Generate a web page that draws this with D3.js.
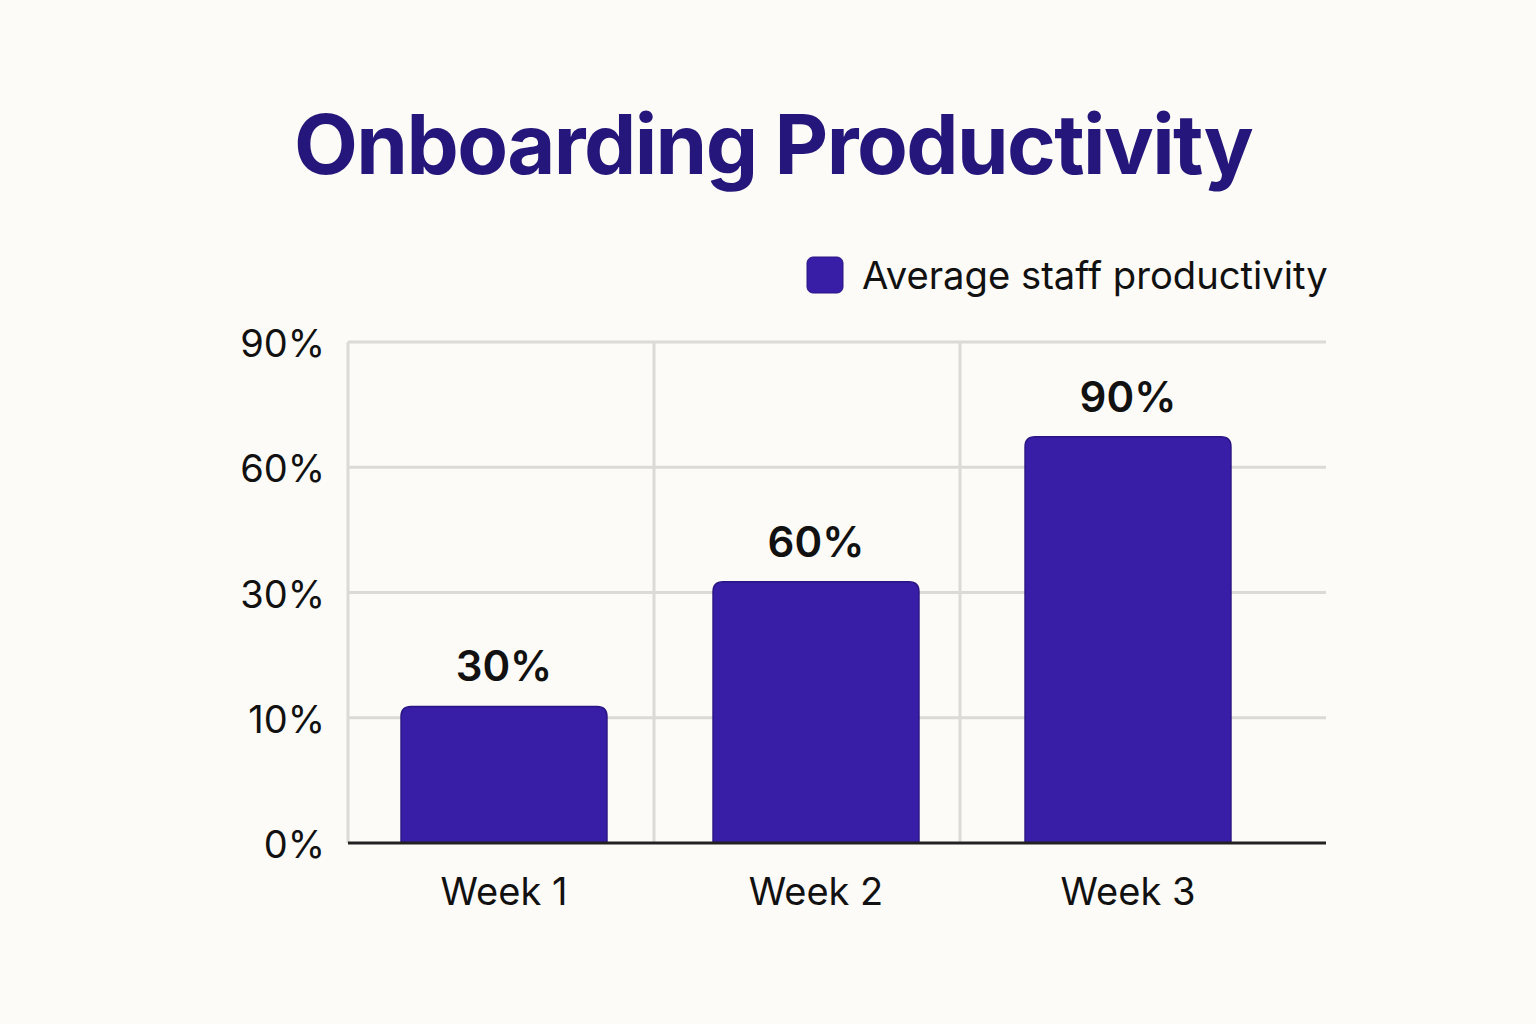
<!DOCTYPE html>
<html>
<head>
<meta charset="utf-8">
<script src="https://cdn.jsdelivr.net/npm/d3@7"></script>
<style>
  html, body { margin: 0; padding: 0; background: #fdfbf7; }
  svg { display: block; font-family: Inter, "Noto Sans", sans-serif; }
</style>
</head>
<body>
<script>
// Chart data
var weeks = ['Week 1', 'Week 2', 'Week 3'];
var valueLabels = [30, 60, 90];          /* the printed labels above each bar */
var barLevels = [11.8, 32.6, 67.3];      /* where the bar tops actually sit on the axis */
var yTicks = [0, 10, 30, 60, 90];        /* evenly spaced, non-linear axis */
var seriesName = 'Average staff productivity';
var titleText = 'Onboarding Productivity';

var colors = {
  'bg'    : '#fdfbf7',
  'title' : '#24167a',
  'bar'   : '#381da7',
  'barEdge': '#2a1585',
  'grid'  : '#dcdad6',
  'axis'  : '#222222',
  'text'  : '#111111'
}

var width = 1536, height = 1024;
var plot = { left: 348, right: 1326, top: 342, bottom: 843 };
var gridColumnWidth = 306; /* vertical gridlines don't follow the bars exactly */

var svg = d3.select('body')
  .append('svg')
  .attr('width', width)
  .attr('height', height);

svg.append('rect')
  .attr('width', width).attr('height', height)
  .attr('fill', colors.bg);

// Scales
let tickPositions = yTicks.map((d, i) => plot.bottom - i * (plot.bottom - plot.top) / (yTicks.length - 1));
let y = d3.scaleLinear().domain(yTicks).range(tickPositions);

let x = d3.scaleBand()
  .domain(weeks)
  .range([plot.left, 1284])
  .paddingInner(0.34)
  .paddingOuter(0.17);

// Title
svg.append('text')
  .attr('x', 773)
  .attr('y', 174)
  .attr('text-anchor', 'middle')
  .attr('font-size', 83)
  .attr('font-weight', 700)
  .attr('letter-spacing', -1.6)
  .attr('fill', colors.title)
  .text(titleText);

// Legend
let legend = svg.append('g');
legend.append('rect')
  .attr('x', 807).attr('y', 257)
  .attr('width', 36).attr('height', 36)
  .attr('rx', 6)
  .attr('fill', colors.bar)
  .attr('stroke', colors.barEdge)
  .attr('stroke-width', 1);
legend.append('text')
  .attr('x', 862).attr('y', 289)
  .attr('font-size', 38.2)
  .attr('fill', colors.text)
  .text(seriesName);

// Horizontal gridlines
svg.append('g')
  .selectAll('line')
  .data(yTicks.slice(1))
  .enter()
  .append('line')
  .attr('x1', plot.left).attr('x2', plot.right)
  .attr('y1', d => y(d)).attr('y2', d => y(d))
  .attr('stroke', colors.grid)
  .attr('stroke-width', 3);

// Vertical gridlines
let vLines = d3.range(weeks.length).map(i => plot.left + i * gridColumnWidth);
svg.append('g')
  .selectAll('line')
  .data(vLines)
  .enter()
  .append('line')
  .attr('x1', d => d).attr('x2', d => d)
  .attr('y1', plot.top).attr('y2', plot.bottom)
  .attr('stroke', colors.grid)
  .attr('stroke-width', 3);

// Y tick labels
svg.append('g')
  .selectAll('text')
  .data(yTicks)
  .enter()
  .append('text')
  .attr('x', 325)
  .attr('y', d => y(d) + 15)
  .attr('text-anchor', 'end')
  .attr('font-size', 38)
  .attr('fill', colors.text)
  .text(d => d + '%');

// Bars with rounded top corners
var barPath = function(x0, y0, w, h, r) {
  return 'M' + x0 + ',' + (y0 + h) +
    ' L' + x0 + ',' + (y0 + r) +
    ' Q' + x0 + ',' + y0 + ' ' + (x0 + r) + ',' + y0 +
    ' L' + (x0 + w - r) + ',' + y0 +
    ' Q' + (x0 + w) + ',' + y0 + ' ' + (x0 + w) + ',' + (y0 + r) +
    ' L' + (x0 + w) + ',' + (y0 + h) + ' Z';
}

svg.append('g')
  .selectAll('path')
  .data(weeks)
  .enter()
  .append('path')
  .attr('d', (d, i) => barPath(x(d), y(barLevels[i]), x.bandwidth(), y(0) - y(barLevels[i]), 10))
  .attr('fill', colors.bar)
  .attr('stroke', colors.barEdge)
  .attr('stroke-width', 1.5);

// Value labels
svg.append('g')
  .selectAll('text')
  .data(weeks)
  .enter()
  .append('text')
  .attr('x', d => x(d) + x.bandwidth() / 2)
  .attr('y', (d, i) => y(barLevels[i]) - 25)
  .attr('text-anchor', 'middle')
  .attr('font-size', 42)
  .attr('font-weight', 600)
  .attr('fill', colors.text)
  .text((d, i) => valueLabels[i] + '%');

// Baseline axis
svg.append('line')
  .attr('x1', plot.left).attr('x2', plot.right)
  .attr('y1', plot.bottom).attr('y2', plot.bottom)
  .attr('stroke', colors.axis)
  .attr('stroke-width', 3);

// X labels
svg.append('g')
  .selectAll('text')
  .data(weeks)
  .enter()
  .append('text')
  .attr('x', d => x(d) + x.bandwidth() / 2)
  .attr('y', 905)
  .attr('text-anchor', 'middle')
  .attr('font-size', 38)
  .attr('fill', colors.text)
  .text(d => d);
</script>
</body>
</html>
